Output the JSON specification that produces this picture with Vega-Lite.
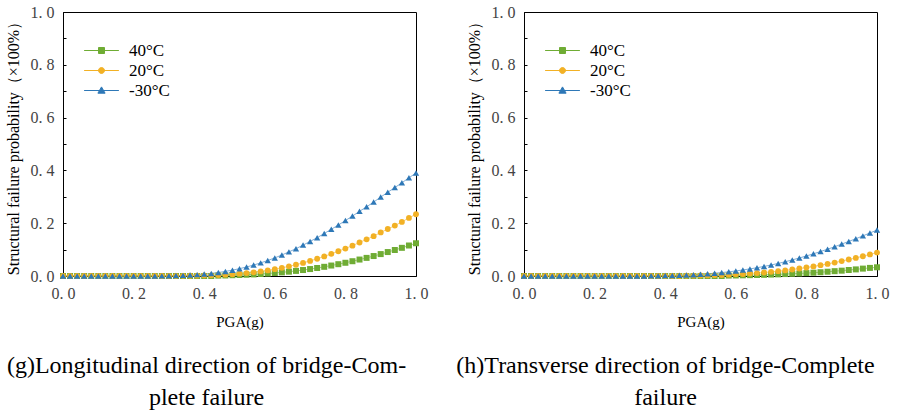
{
  "$schema": "https://vega.github.io/schema/vega-lite/v6.json",
  "background": "white",
  "padding": {"left": 4, "top": 3, "right": 5, "bottom": 3},
  "bounds": "flush",
  "config": {
    "view": {"stroke": "black", "strokeWidth": 1},
    "font": "Liberation Serif",
    "axis": {"grid": false, "labelFont": "Liberation Serif", "labelFontSize": 16, "labelColor": "#444444", "titleFont": "Liberation Serif", "titleFontWeight": "normal", "titleColor": "black", "domainColor": "black"},
    "legend": {"labelFont": "Liberation Serif", "labelFontSize": 17, "labelColor": "black", "symbolOpacity": 1},
    "title": {"font": "Liberation Serif", "fontSize": 24, "fontWeight": "normal", "color": "black"}
  },
  "spacing": 108,
  "resolve": {"scale": {"color": "independent"}, "legend": {"color": "independent"}},
  "datasets": {
    "d": [
      {"panel":"L","temp":"40°C","pga":0.00,"p":0},{"panel":"L","temp":"40°C","pga":0.02,"p":0},{"panel":"L","temp":"40°C","pga":0.04,"p":0},{"panel":"L","temp":"40°C","pga":0.06,"p":0},{"panel":"L","temp":"40°C","pga":0.08,"p":0},{"panel":"L","temp":"40°C","pga":0.10,"p":0},{"panel":"L","temp":"40°C","pga":0.12,"p":0},{"panel":"L","temp":"40°C","pga":0.14,"p":0},{"panel":"L","temp":"40°C","pga":0.16,"p":0},{"panel":"L","temp":"40°C","pga":0.18,"p":0},{"panel":"L","temp":"40°C","pga":0.20,"p":0},{"panel":"L","temp":"40°C","pga":0.22,"p":0},{"panel":"L","temp":"40°C","pga":0.24,"p":0},{"panel":"L","temp":"40°C","pga":0.26,"p":0},{"panel":"L","temp":"40°C","pga":0.28,"p":0},{"panel":"L","temp":"40°C","pga":0.30,"p":0},{"panel":"L","temp":"40°C","pga":0.32,"p":0},{"panel":"L","temp":"40°C","pga":0.34,"p":0},{"panel":"L","temp":"40°C","pga":0.36,"p":0},{"panel":"L","temp":"40°C","pga":0.38,"p":0},{"panel":"L","temp":"40°C","pga":0.40,"p":0},{"panel":"L","temp":"40°C","pga":0.42,"p":0},{"panel":"L","temp":"40°C","pga":0.44,"p":0.0015},{"panel":"L","temp":"40°C","pga":0.46,"p":0.002},{"panel":"L","temp":"40°C","pga":0.48,"p":0.003},{"panel":"L","temp":"40°C","pga":0.50,"p":0.0037},{"panel":"L","temp":"40°C","pga":0.52,"p":0.0048},{"panel":"L","temp":"40°C","pga":0.54,"p":0.006},{"panel":"L","temp":"40°C","pga":0.56,"p":0.0075},{"panel":"L","temp":"40°C","pga":0.58,"p":0.0094},{"panel":"L","temp":"40°C","pga":0.60,"p":0.0114},{"panel":"L","temp":"40°C","pga":0.62,"p":0.0138},{"panel":"L","temp":"40°C","pga":0.64,"p":0.0164},{"panel":"L","temp":"40°C","pga":0.66,"p":0.0193},{"panel":"L","temp":"40°C","pga":0.68,"p":0.0226},{"panel":"L","temp":"40°C","pga":0.70,"p":0.0263},{"panel":"L","temp":"40°C","pga":0.72,"p":0.0303},{"panel":"L","temp":"40°C","pga":0.74,"p":0.0348},{"panel":"L","temp":"40°C","pga":0.76,"p":0.0396},{"panel":"L","temp":"40°C","pga":0.78,"p":0.0447},{"panel":"L","temp":"40°C","pga":0.80,"p":0.0501},{"panel":"L","temp":"40°C","pga":0.82,"p":0.056},{"panel":"L","temp":"40°C","pga":0.84,"p":0.0623},{"panel":"L","temp":"40°C","pga":0.86,"p":0.0686},{"panel":"L","temp":"40°C","pga":0.88,"p":0.0756},{"panel":"L","temp":"40°C","pga":0.90,"p":0.083},{"panel":"L","temp":"40°C","pga":0.92,"p":0.0907},{"panel":"L","temp":"40°C","pga":0.94,"p":0.0985},{"panel":"L","temp":"40°C","pga":0.96,"p":0.1067},{"panel":"L","temp":"40°C","pga":0.98,"p":0.1155},{"panel":"L","temp":"40°C","pga":1.00,"p":0.124},

      {"panel":"L","temp":"20°C","pga":0.00,"p":0},{"panel":"L","temp":"20°C","pga":0.02,"p":0},{"panel":"L","temp":"20°C","pga":0.04,"p":0},{"panel":"L","temp":"20°C","pga":0.06,"p":0},{"panel":"L","temp":"20°C","pga":0.08,"p":0},{"panel":"L","temp":"20°C","pga":0.10,"p":0},{"panel":"L","temp":"20°C","pga":0.12,"p":0},{"panel":"L","temp":"20°C","pga":0.14,"p":0},{"panel":"L","temp":"20°C","pga":0.16,"p":0},{"panel":"L","temp":"20°C","pga":0.18,"p":0},{"panel":"L","temp":"20°C","pga":0.20,"p":0},{"panel":"L","temp":"20°C","pga":0.22,"p":0},{"panel":"L","temp":"20°C","pga":0.24,"p":0},{"panel":"L","temp":"20°C","pga":0.26,"p":0},{"panel":"L","temp":"20°C","pga":0.28,"p":0},{"panel":"L","temp":"20°C","pga":0.30,"p":0},{"panel":"L","temp":"20°C","pga":0.32,"p":0},{"panel":"L","temp":"20°C","pga":0.34,"p":0.0005},{"panel":"L","temp":"20°C","pga":0.36,"p":0.0008},{"panel":"L","temp":"20°C","pga":0.38,"p":0.0012},{"panel":"L","temp":"20°C","pga":0.40,"p":0.0018},{"panel":"L","temp":"20°C","pga":0.42,"p":0.0026},{"panel":"L","temp":"20°C","pga":0.44,"p":0.0036},{"panel":"L","temp":"20°C","pga":0.46,"p":0.0049},{"panel":"L","temp":"20°C","pga":0.48,"p":0.0066},{"panel":"L","temp":"20°C","pga":0.50,"p":0.0087},{"panel":"L","temp":"20°C","pga":0.52,"p":0.011},{"panel":"L","temp":"20°C","pga":0.54,"p":0.0139},{"panel":"L","temp":"20°C","pga":0.56,"p":0.0174},{"panel":"L","temp":"20°C","pga":0.58,"p":0.0212},{"panel":"L","temp":"20°C","pga":0.60,"p":0.0258},{"panel":"L","temp":"20°C","pga":0.62,"p":0.0309},{"panel":"L","temp":"20°C","pga":0.64,"p":0.0366},{"panel":"L","temp":"20°C","pga":0.66,"p":0.0427},{"panel":"L","temp":"20°C","pga":0.68,"p":0.0497},{"panel":"L","temp":"20°C","pga":0.70,"p":0.0572},{"panel":"L","temp":"20°C","pga":0.72,"p":0.0653},{"panel":"L","temp":"20°C","pga":0.74,"p":0.0742},{"panel":"L","temp":"20°C","pga":0.76,"p":0.0838},{"panel":"L","temp":"20°C","pga":0.78,"p":0.0937},{"panel":"L","temp":"20°C","pga":0.80,"p":0.104},{"panel":"L","temp":"20°C","pga":0.82,"p":0.115},{"panel":"L","temp":"20°C","pga":0.84,"p":0.127},{"panel":"L","temp":"20°C","pga":0.86,"p":0.139},{"panel":"L","temp":"20°C","pga":0.88,"p":0.151},{"panel":"L","temp":"20°C","pga":0.90,"p":0.165},{"panel":"L","temp":"20°C","pga":0.92,"p":0.178},{"panel":"L","temp":"20°C","pga":0.94,"p":0.191},{"panel":"L","temp":"20°C","pga":0.96,"p":0.205},{"panel":"L","temp":"20°C","pga":0.98,"p":0.22},{"panel":"L","temp":"20°C","pga":1.00,"p":0.234},

      {"panel":"L","temp":"-30°C","pga":0.00,"p":0},{"panel":"L","temp":"-30°C","pga":0.02,"p":0},{"panel":"L","temp":"-30°C","pga":0.04,"p":0},{"panel":"L","temp":"-30°C","pga":0.06,"p":0},{"panel":"L","temp":"-30°C","pga":0.08,"p":0},{"panel":"L","temp":"-30°C","pga":0.10,"p":0},{"panel":"L","temp":"-30°C","pga":0.12,"p":0},{"panel":"L","temp":"-30°C","pga":0.14,"p":0},{"panel":"L","temp":"-30°C","pga":0.16,"p":0},{"panel":"L","temp":"-30°C","pga":0.18,"p":0},{"panel":"L","temp":"-30°C","pga":0.20,"p":0},{"panel":"L","temp":"-30°C","pga":0.22,"p":0},{"panel":"L","temp":"-30°C","pga":0.24,"p":0.0001},{"panel":"L","temp":"-30°C","pga":0.26,"p":0.0003},{"panel":"L","temp":"-30°C","pga":0.28,"p":0.0005},{"panel":"L","temp":"-30°C","pga":0.30,"p":0.001},{"panel":"L","temp":"-30°C","pga":0.32,"p":0.0015},{"panel":"L","temp":"-30°C","pga":0.34,"p":0.0024},{"panel":"L","temp":"-30°C","pga":0.36,"p":0.0036},{"panel":"L","temp":"-30°C","pga":0.38,"p":0.0052},{"panel":"L","temp":"-30°C","pga":0.40,"p":0.0073},{"panel":"L","temp":"-30°C","pga":0.42,"p":0.0099},{"panel":"L","temp":"-30°C","pga":0.44,"p":0.0132},{"panel":"L","temp":"-30°C","pga":0.46,"p":0.0174},{"panel":"L","temp":"-30°C","pga":0.48,"p":0.0222},{"panel":"L","temp":"-30°C","pga":0.50,"p":0.0278},{"panel":"L","temp":"-30°C","pga":0.52,"p":0.0342},{"panel":"L","temp":"-30°C","pga":0.54,"p":0.0415},{"panel":"L","temp":"-30°C","pga":0.56,"p":0.0497},{"panel":"L","temp":"-30°C","pga":0.58,"p":0.0587},{"panel":"L","temp":"-30°C","pga":0.60,"p":0.0686},{"panel":"L","temp":"-30°C","pga":0.62,"p":0.0796},{"panel":"L","temp":"-30°C","pga":0.64,"p":0.0914},{"panel":"L","temp":"-30°C","pga":0.66,"p":0.1035},{"panel":"L","temp":"-30°C","pga":0.68,"p":0.117},{"panel":"L","temp":"-30°C","pga":0.70,"p":0.131},{"panel":"L","temp":"-30°C","pga":0.72,"p":0.145},{"panel":"L","temp":"-30°C","pga":0.74,"p":0.161},{"panel":"L","temp":"-30°C","pga":0.76,"p":0.177},{"panel":"L","temp":"-30°C","pga":0.78,"p":0.193},{"panel":"L","temp":"-30°C","pga":0.80,"p":0.21},{"panel":"L","temp":"-30°C","pga":0.82,"p":0.227},{"panel":"L","temp":"-30°C","pga":0.84,"p":0.245},{"panel":"L","temp":"-30°C","pga":0.86,"p":0.262},{"panel":"L","temp":"-30°C","pga":0.88,"p":0.28},{"panel":"L","temp":"-30°C","pga":0.90,"p":0.299},{"panel":"L","temp":"-30°C","pga":0.92,"p":0.317},{"panel":"L","temp":"-30°C","pga":0.94,"p":0.335},{"panel":"L","temp":"-30°C","pga":0.96,"p":0.353},{"panel":"L","temp":"-30°C","pga":0.98,"p":0.372},{"panel":"L","temp":"-30°C","pga":1.00,"p":0.39},

      {"panel":"R","temp":"40°C","pga":0.00,"p":0},{"panel":"R","temp":"40°C","pga":0.02,"p":0},{"panel":"R","temp":"40°C","pga":0.04,"p":0},{"panel":"R","temp":"40°C","pga":0.06,"p":0},{"panel":"R","temp":"40°C","pga":0.08,"p":0},{"panel":"R","temp":"40°C","pga":0.10,"p":0},{"panel":"R","temp":"40°C","pga":0.12,"p":0},{"panel":"R","temp":"40°C","pga":0.14,"p":0},{"panel":"R","temp":"40°C","pga":0.16,"p":0},{"panel":"R","temp":"40°C","pga":0.18,"p":0},{"panel":"R","temp":"40°C","pga":0.20,"p":0},{"panel":"R","temp":"40°C","pga":0.22,"p":0},{"panel":"R","temp":"40°C","pga":0.24,"p":0},{"panel":"R","temp":"40°C","pga":0.26,"p":0},{"panel":"R","temp":"40°C","pga":0.28,"p":0},{"panel":"R","temp":"40°C","pga":0.30,"p":0},{"panel":"R","temp":"40°C","pga":0.32,"p":0},{"panel":"R","temp":"40°C","pga":0.34,"p":0},{"panel":"R","temp":"40°C","pga":0.36,"p":0},{"panel":"R","temp":"40°C","pga":0.38,"p":0},{"panel":"R","temp":"40°C","pga":0.40,"p":0},{"panel":"R","temp":"40°C","pga":0.42,"p":0},{"panel":"R","temp":"40°C","pga":0.44,"p":0},{"panel":"R","temp":"40°C","pga":0.46,"p":0},{"panel":"R","temp":"40°C","pga":0.48,"p":0},{"panel":"R","temp":"40°C","pga":0.50,"p":0},{"panel":"R","temp":"40°C","pga":0.52,"p":0},{"panel":"R","temp":"40°C","pga":0.54,"p":0},{"panel":"R","temp":"40°C","pga":0.56,"p":0},{"panel":"R","temp":"40°C","pga":0.58,"p":0.0017},{"panel":"R","temp":"40°C","pga":0.60,"p":0.002},{"panel":"R","temp":"40°C","pga":0.62,"p":0.0026},{"panel":"R","temp":"40°C","pga":0.64,"p":0.0032},{"panel":"R","temp":"40°C","pga":0.66,"p":0.0038},{"panel":"R","temp":"40°C","pga":0.68,"p":0.0045},{"panel":"R","temp":"40°C","pga":0.70,"p":0.0054},{"panel":"R","temp":"40°C","pga":0.72,"p":0.0062},{"panel":"R","temp":"40°C","pga":0.74,"p":0.0073},{"panel":"R","temp":"40°C","pga":0.76,"p":0.0084},{"panel":"R","temp":"40°C","pga":0.78,"p":0.0096},{"panel":"R","temp":"40°C","pga":0.80,"p":0.011},{"panel":"R","temp":"40°C","pga":0.82,"p":0.0125},{"panel":"R","temp":"40°C","pga":0.84,"p":0.0143},{"panel":"R","temp":"40°C","pga":0.86,"p":0.0162},{"panel":"R","temp":"40°C","pga":0.88,"p":0.0183},{"panel":"R","temp":"40°C","pga":0.90,"p":0.0202},{"panel":"R","temp":"40°C","pga":0.92,"p":0.0228},{"panel":"R","temp":"40°C","pga":0.94,"p":0.025},{"panel":"R","temp":"40°C","pga":0.96,"p":0.028},{"panel":"R","temp":"40°C","pga":0.98,"p":0.0307},{"panel":"R","temp":"40°C","pga":1.00,"p":0.033},

      {"panel":"R","temp":"20°C","pga":0.00,"p":0},{"panel":"R","temp":"20°C","pga":0.02,"p":0},{"panel":"R","temp":"20°C","pga":0.04,"p":0},{"panel":"R","temp":"20°C","pga":0.06,"p":0},{"panel":"R","temp":"20°C","pga":0.08,"p":0},{"panel":"R","temp":"20°C","pga":0.10,"p":0},{"panel":"R","temp":"20°C","pga":0.12,"p":0},{"panel":"R","temp":"20°C","pga":0.14,"p":0},{"panel":"R","temp":"20°C","pga":0.16,"p":0},{"panel":"R","temp":"20°C","pga":0.18,"p":0},{"panel":"R","temp":"20°C","pga":0.20,"p":0},{"panel":"R","temp":"20°C","pga":0.22,"p":0},{"panel":"R","temp":"20°C","pga":0.24,"p":0},{"panel":"R","temp":"20°C","pga":0.26,"p":0},{"panel":"R","temp":"20°C","pga":0.28,"p":0},{"panel":"R","temp":"20°C","pga":0.30,"p":0},{"panel":"R","temp":"20°C","pga":0.32,"p":0},{"panel":"R","temp":"20°C","pga":0.34,"p":0},{"panel":"R","temp":"20°C","pga":0.36,"p":0},{"panel":"R","temp":"20°C","pga":0.38,"p":0},{"panel":"R","temp":"20°C","pga":0.40,"p":0},{"panel":"R","temp":"20°C","pga":0.42,"p":0},{"panel":"R","temp":"20°C","pga":0.44,"p":0},{"panel":"R","temp":"20°C","pga":0.46,"p":0.001},{"panel":"R","temp":"20°C","pga":0.48,"p":0.0013},{"panel":"R","temp":"20°C","pga":0.50,"p":0.0018},{"panel":"R","temp":"20°C","pga":0.52,"p":0.0023},{"panel":"R","temp":"20°C","pga":0.54,"p":0.003},{"panel":"R","temp":"20°C","pga":0.56,"p":0.0039},{"panel":"R","temp":"20°C","pga":0.58,"p":0.005},{"panel":"R","temp":"20°C","pga":0.60,"p":0.0062},{"panel":"R","temp":"20°C","pga":0.62,"p":0.0076},{"panel":"R","temp":"20°C","pga":0.64,"p":0.0093},{"panel":"R","temp":"20°C","pga":0.66,"p":0.011},{"panel":"R","temp":"20°C","pga":0.68,"p":0.0132},{"panel":"R","temp":"20°C","pga":0.70,"p":0.0157},{"panel":"R","temp":"20°C","pga":0.72,"p":0.0183},{"panel":"R","temp":"20°C","pga":0.74,"p":0.0213},{"panel":"R","temp":"20°C","pga":0.76,"p":0.0246},{"panel":"R","temp":"20°C","pga":0.78,"p":0.0283},{"panel":"R","temp":"20°C","pga":0.80,"p":0.0321},{"panel":"R","temp":"20°C","pga":0.82,"p":0.0363},{"panel":"R","temp":"20°C","pga":0.84,"p":0.0409},{"panel":"R","temp":"20°C","pga":0.86,"p":0.0457},{"panel":"R","temp":"20°C","pga":0.88,"p":0.0508},{"panel":"R","temp":"20°C","pga":0.90,"p":0.0565},{"panel":"R","temp":"20°C","pga":0.92,"p":0.0624},{"panel":"R","temp":"20°C","pga":0.94,"p":0.0684},{"panel":"R","temp":"20°C","pga":0.96,"p":0.0749},{"panel":"R","temp":"20°C","pga":0.98,"p":0.0818},{"panel":"R","temp":"20°C","pga":1.00,"p":0.0888},

      {"panel":"R","temp":"-30°C","pga":0.00,"p":0},{"panel":"R","temp":"-30°C","pga":0.02,"p":0},{"panel":"R","temp":"-30°C","pga":0.04,"p":0},{"panel":"R","temp":"-30°C","pga":0.06,"p":0},{"panel":"R","temp":"-30°C","pga":0.08,"p":0},{"panel":"R","temp":"-30°C","pga":0.10,"p":0},{"panel":"R","temp":"-30°C","pga":0.12,"p":0},{"panel":"R","temp":"-30°C","pga":0.14,"p":0},{"panel":"R","temp":"-30°C","pga":0.16,"p":0},{"panel":"R","temp":"-30°C","pga":0.18,"p":0},{"panel":"R","temp":"-30°C","pga":0.20,"p":0},{"panel":"R","temp":"-30°C","pga":0.22,"p":0},{"panel":"R","temp":"-30°C","pga":0.24,"p":0},{"panel":"R","temp":"-30°C","pga":0.26,"p":0},{"panel":"R","temp":"-30°C","pga":0.28,"p":0},{"panel":"R","temp":"-30°C","pga":0.30,"p":0},{"panel":"R","temp":"-30°C","pga":0.32,"p":0},{"panel":"R","temp":"-30°C","pga":0.34,"p":0},{"panel":"R","temp":"-30°C","pga":0.36,"p":0.0007},{"panel":"R","temp":"-30°C","pga":0.38,"p":0.001},{"panel":"R","temp":"-30°C","pga":0.40,"p":0.0015},{"panel":"R","temp":"-30°C","pga":0.42,"p":0.002},{"panel":"R","temp":"-30°C","pga":0.44,"p":0.0029},{"panel":"R","temp":"-30°C","pga":0.46,"p":0.0039},{"panel":"R","temp":"-30°C","pga":0.48,"p":0.005},{"panel":"R","temp":"-30°C","pga":0.50,"p":0.0066},{"panel":"R","temp":"-30°C","pga":0.52,"p":0.0084},{"panel":"R","temp":"-30°C","pga":0.54,"p":0.0105},{"panel":"R","temp":"-30°C","pga":0.56,"p":0.013},{"panel":"R","temp":"-30°C","pga":0.58,"p":0.0158},{"panel":"R","temp":"-30°C","pga":0.60,"p":0.0191},{"panel":"R","temp":"-30°C","pga":0.62,"p":0.0228},{"panel":"R","temp":"-30°C","pga":0.64,"p":0.0269},{"panel":"R","temp":"-30°C","pga":0.66,"p":0.0313},{"panel":"R","temp":"-30°C","pga":0.68,"p":0.0363},{"panel":"R","temp":"-30°C","pga":0.70,"p":0.0417},{"panel":"R","temp":"-30°C","pga":0.72,"p":0.0476},{"panel":"R","temp":"-30°C","pga":0.74,"p":0.054},{"panel":"R","temp":"-30°C","pga":0.76,"p":0.061},{"panel":"R","temp":"-30°C","pga":0.78,"p":0.0683},{"panel":"R","temp":"-30°C","pga":0.80,"p":0.0759},{"panel":"R","temp":"-30°C","pga":0.82,"p":0.0841},{"panel":"R","temp":"-30°C","pga":0.84,"p":0.0927},{"panel":"R","temp":"-30°C","pga":0.86,"p":0.1015},{"panel":"R","temp":"-30°C","pga":0.88,"p":0.1108},{"panel":"R","temp":"-30°C","pga":0.90,"p":0.1208},{"panel":"R","temp":"-30°C","pga":0.92,"p":0.131},{"panel":"R","temp":"-30°C","pga":0.94,"p":0.141},{"panel":"R","temp":"-30°C","pga":0.96,"p":0.152},{"panel":"R","temp":"-30°C","pga":0.98,"p":0.163},{"panel":"R","temp":"-30°C","pga":1.00,"p":0.174}
    ]
  },
  "hconcat": [
    {
      "width": 353, "height": 264,
      "data": {"name": "d"},
      "transform": [{"filter": "datum.panel === 'L'"}],
      "title": {"text": ["(g)Longitudinal direction of bridge-Com-", "plete failure"], "orient": "bottom", "anchor": "middle", "frame": "group", "dx": -33, "offset": 25, "lineHeight": 32, "font": "Liberation Serif", "fontSize": 24, "fontWeight": "normal"},
      "encoding": {
        "x": {"field": "pga", "type": "quantitative", "scale": {"domain": [0, 1], "nice": false}, "axis": {"title": "PGA(g)", "titleFontSize": 15, "titlePadding": 13, "ticks": false, "values": [0, 0.2, 0.4, 0.6, 0.8, 1.0], "labelPadding": 9, "labelExpr": "replace(format(datum.value, '.1f'), '.', '. ')", "labelFlush": false}},
        "y": {"field": "p", "type": "quantitative", "scale": {"domain": [0, 1], "nice": false}, "axis": {"title": "Structural failure probability（×100%）", "titleFontSize": 16, "titlePadding": 9, "tickSize": -3, "tickColor": "black", "values": [0, 0.1, 0.2, 0.3, 0.4, 0.5, 0.6, 0.7, 0.8, 0.9, 1.0], "labelPadding": 12, "labelExpr": "round(datum.value * 10) % 2 === 0 ? replace(format(datum.value, '.1f'), '.', '. ') : ''", "labelFlush": false}},
        "color": {"field": "temp", "type": "nominal", "scale": {"domain": ["40°C", "20°C", "-30°C"], "range": ["#6fac34", "#f2b125", "#2e78b7"]},
          "legend": {"title": null, "orient": "none", "legendX": 30, "legendY": 30, "padding": 0, "symbolSize": 144, "labelOffset": 19, "rowPadding": 2, "labelFont": "Liberation Serif", "labelFontSize": 17, "symbolOpacity": 1, "symbolStrokeWidth": 1,
            "encode": {"symbols": {"update": {
              "shape": {"signal": "datum.value === '40°C' ? 'M-2.9,0H2.9M-0.5,-0.5H0.5V0.5H-0.5Z' : datum.value === '20°C' ? 'M-2.9,0H2.9M0.5,0A0.5,0.5,0,1,1,-0.5,0A0.5,0.5,0,1,1,0.5,0Z' : 'M-2.9,0H2.9M0,-0.6L0.6,0.45H-0.6Z'"},
              "opacity": {"value": 1}
            }}}}}
      },
      "layer": [
        {"mark": {"type": "line", "strokeWidth": 1, "opacity": 0.6}, "encoding": {"detail": {"field": "temp"}}},
        {"transform": [{"filter": "datum.temp === '40°C'"}], "mark": {"type": "point", "shape": "square", "filled": true, "size": 36, "opacity": 1}},
        {"transform": [{"filter": "datum.temp === '20°C'"}], "mark": {"type": "point", "shape": "circle", "filled": true, "size": 34, "opacity": 1}},
        {"transform": [{"filter": "datum.temp === '-30°C'"}], "mark": {"type": "point", "shape": "triangle-up", "filled": true, "size": 40, "opacity": 1}}
      ]
    },
    {
      "width": 353, "height": 264,
      "data": {"name": "d"},
      "transform": [{"filter": "datum.panel === 'R'"}],
      "title": {"text": ["(h)Transverse direction of bridge-Complete", "failure"], "orient": "bottom", "anchor": "middle", "frame": "group", "dx": -35, "offset": 25, "lineHeight": 32, "font": "Liberation Serif", "fontSize": 24, "fontWeight": "normal"},
      "encoding": {
        "x": {"field": "pga", "type": "quantitative", "scale": {"domain": [0, 1], "nice": false}, "axis": {"title": "PGA(g)", "titleFontSize": 15, "titlePadding": 13, "ticks": false, "values": [0, 0.2, 0.4, 0.6, 0.8, 1.0], "labelPadding": 9, "labelExpr": "replace(format(datum.value, '.1f'), '.', '. ')", "labelFlush": false}},
        "y": {"field": "p", "type": "quantitative", "scale": {"domain": [0, 1], "nice": false}, "axis": {"title": "Structural failure probability（×100%）", "titleFontSize": 16, "titlePadding": 9, "tickSize": -3, "tickColor": "black", "values": [0, 0.1, 0.2, 0.3, 0.4, 0.5, 0.6, 0.7, 0.8, 0.9, 1.0], "labelPadding": 12, "labelExpr": "round(datum.value * 10) % 2 === 0 ? replace(format(datum.value, '.1f'), '.', '. ') : ''", "labelFlush": false}},
        "color": {"field": "temp", "type": "nominal", "scale": {"domain": ["40°C", "20°C", "-30°C"], "range": ["#6fac34", "#f2b125", "#2e78b7"]},
          "legend": {"title": null, "orient": "none", "legendX": 30, "legendY": 30, "padding": 0, "symbolSize": 144, "labelOffset": 19, "rowPadding": 2, "labelFont": "Liberation Serif", "labelFontSize": 17, "symbolOpacity": 1, "symbolStrokeWidth": 1,
            "encode": {"symbols": {"update": {
              "shape": {"signal": "datum.value === '40°C' ? 'M-2.9,0H2.9M-0.5,-0.5H0.5V0.5H-0.5Z' : datum.value === '20°C' ? 'M-2.9,0H2.9M0.5,0A0.5,0.5,0,1,1,-0.5,0A0.5,0.5,0,1,1,0.5,0Z' : 'M-2.9,0H2.9M0,-0.6L0.6,0.45H-0.6Z'"},
              "opacity": {"value": 1}
            }}}}}
      },
      "layer": [
        {"mark": {"type": "line", "strokeWidth": 1, "opacity": 0.6}, "encoding": {"detail": {"field": "temp"}}},
        {"transform": [{"filter": "datum.temp === '40°C'"}], "mark": {"type": "point", "shape": "square", "filled": true, "size": 36, "opacity": 1}},
        {"transform": [{"filter": "datum.temp === '20°C'"}], "mark": {"type": "point", "shape": "circle", "filled": true, "size": 34, "opacity": 1}},
        {"transform": [{"filter": "datum.temp === '-30°C'"}], "mark": {"type": "point", "shape": "triangle-up", "filled": true, "size": 40, "opacity": 1}}
      ]
    }
  ]
}
